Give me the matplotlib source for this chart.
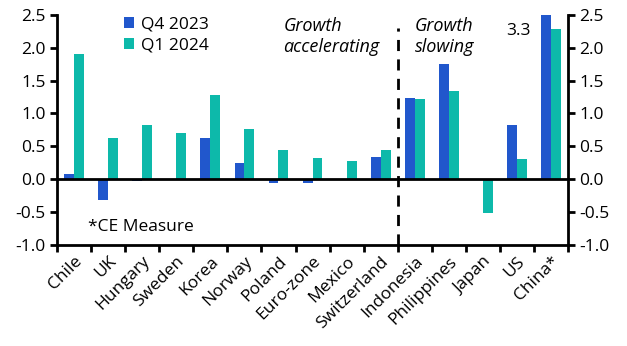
import numpy as np
import matplotlib
matplotlib.use("Agg")
import matplotlib.pyplot as plt

plt.rcParams['font.family'] = ['Open Sans', 'DejaVu Sans']

countries = ["Chile", "UK", "Hungary", "Sweden", "Korea", "Norway", "Poland",
             "Euro-zone", "Mexico", "Switzerland", "Indonesia", "Philippines",
             "Japan", "US", "China*"]
q4_2023 = [0.08, -0.31, -0.03, 0.0, 0.62, 0.25, -0.05, -0.05, 0.0, 0.34,
           1.23, 1.76, 0.0, 0.83, 3.3]
q1_2024 = [1.90, 0.63, 0.83, 0.71, 1.28, 0.76, 0.44, 0.33, 0.28, 0.45,
           1.22, 1.34, -0.51, 0.31, 2.29]

BLUE = "#2157cc"
TEAL = "#0db9aa"
FS = 12.5

fig = plt.figure(figsize=(6.27, 3.46), dpi=100)
ax = fig.add_axes([0.091, 0.292, 0.815, 0.665])

x = np.arange(len(countries))
w = 0.29
ax.bar(x - w/2, q4_2023, w, color=BLUE, label="Q4 2023")
ax.bar(x + w/2, q1_2024, w, color=TEAL, label="Q1 2024")

ax.set_xlim(-0.5, len(countries) - 0.5)
ax.set_ylim(-1.0, 2.5)
ax.axhline(0, color="black", lw=2, zorder=3)
ax.plot([9.5, 9.5], [-1.0, 2.3], color="black", lw=2, ls=(0, (4, 3)), zorder=3)

ax.set_yticks(np.arange(-1.0, 2.51, 0.5))
ax.set_yticklabels([f"{v:.1f}" for v in np.arange(-1.0, 2.51, 0.5)])
ax.tick_params(axis="y", labelsize=FS, width=2, length=5, direction="out",
               left=True, right=True, labelleft=True, labelright=True, pad=3)
ax.set_xticks(np.arange(-0.5, len(countries), 1.0), minor=False)
ax.set_xticklabels([])
ax.set_xticks(x, minor=True)
ax.set_xticklabels(countries, minor=True, rotation=45, ha="right",
                   rotation_mode="anchor", fontsize=FS)
ax.tick_params(axis="x", which="major", width=2, length=5, direction="out")
ax.tick_params(axis="x", which="minor", length=0, pad=6)

for side in ["left", "right", "bottom"]:
    ax.spines[side].set_linewidth(2)
ax.spines["top"].set_visible(False)

ax.legend(loc="upper left", bbox_to_anchor=(0.1, 1.06), frameon=False,
          fontsize=FS, handlelength=0.6, handleheight=0.6,
          handletextpad=0.4, labelspacing=0.3)

ax.text(6.15, 2.47, "Growth\naccelerating", style="italic", fontsize=13,
        va="top", ha="left", linespacing=1.2)
ax.text(10.0, 2.47, "Growth\nslowing", style="italic", fontsize=13,
        va="top", ha="left", linespacing=1.2)
ax.text(13.4, 2.26, "3.3", fontsize=FS, va="center", ha="right")
ax.text(0.4, -0.72, "*CE Measure", fontsize=FS, va="center", ha="left")

fig.savefig("out.png", dpi=100)
